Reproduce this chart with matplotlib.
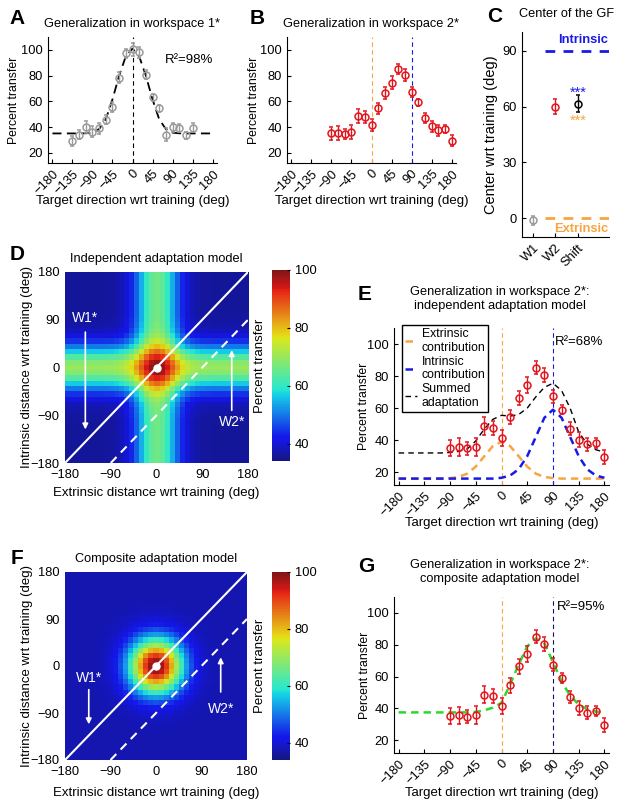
import numpy as np
import matplotlib
matplotlib.use("Agg")
import matplotlib.pyplot as plt
from matplotlib.colors import ListedColormap

plt.rcParams["font.family"] = ["Liberation Sans", "DejaVu Sans"]
plt.rcParams["font.size"] = 9

W, H = 627, 810

# --- данные ---
W1_DIR = [-135, -120, -105, -90, -75, -60, -45, -30, -15, 0, 15, 30, 45, 60, 75, 90, 105, 120, 135]
W1_VAL = [29, 34, 40, 36.5, 39, 45.5, 55.5, 78.5, 97.5, 100.5, 98, 80.5, 63, 54.5, 34, 40, 39, 33.5, 39.5]
W1_ERR = [4, 3.5, 5, 4, 4.5, 3.5, 4, 4, 3.5, 5, 4, 3.5, 3, 3, 5, 3.5, 3, 3, 3.5]

W2_DIR = [-90, -75, -60, -45, -30, -15, 0, 15, 30, 45, 60, 75, 90, 105, 120, 135, 150, 165, 180]
W2_VAL = [35.2, 35.6, 34.8, 35.8, 48.7, 47.6, 41.6, 54.5, 66.4, 74.3, 85.1, 80.5, 67.4, 59.1, 47.2, 40.4, 37.3, 38.3, 29.4]
W2_ERR = [5, 5.5, 4, 5.5, 5.5, 4.5, 5, 4.5, 4.5, 5, 4, 4.5, 4, 3, 4, 4.5, 4, 3, 4.5]

CURVE_DIR = [-180, -165, -150, -135, -120, -105, -90, -75, -60, -45, -30, -15, 0,
             15, 30, 45, 60, 75, 90, 105, 120, 135, 150, 165, 180]
W1_FIT = [35, 35, 35, 35, 35, 35.1, 35.6, 38.4, 46, 61.5, 80, 95, 101,
          95, 80, 61.5, 46, 38.4, 35.6, 35.1, 35, 35, 35, 35, 35]
EXT_CONTRIB = [16, 16, 16, 16, 16, 16, 16.3, 17, 19.1, 23.5, 30, 36.3, 39,
               36.3, 30, 23.5, 19.1, 17, 16.3, 16, 16, 16, 16, 16, 16]
INT_CONTRIB = [16, 16, 16, 16, 16, 16, 16, 16, 16, 16, 16, 16, 16.5,
               17.9, 21.8, 30, 42, 54, 59, 54, 42, 30, 21.8, 17.9, 16.5]
SUM_ADAPT = [32, 32, 32, 32, 32, 32, 32.3, 33, 34.5, 39.5, 47, 53, 55.5,
             55, 56, 60, 67, 73, 75.5, 71, 60, 45, 37.5, 34, 32.5]
COMPOSITE_FIT = [37.5, 37.5, 37.5, 37.5, 37.5, 37.5, 37.5, 37.5, 37.5, 37.8, 38.8, 40.5, 43.5,
                 55, 67.5, 79, 84, 81, 69, 57, 48, 42.5, 39.5, 38, 37.5]

DIR_TICKS = [-180, -135, -90, -45, 0, 45, 90, 135, 180]

C_NAMES = ["W1", "W2", "Shift"]
C_VAL = [-1, 60, 61.5]
C_ERR = [2.5, 4, 4.5]

# профили моделей на сетке 10° (от -180 до 180)
EXT_PROFILE_D = [18, 18, 18, 18, 18, 18, 18, 18, 18.1, 18.3, 18.9, 20, 22, 25.5, 30.3, 36.2, 42, 46.4, 48,
                 46.4, 42, 36.2, 30.3, 25.5, 22, 20, 18.9, 18.3, 18.1, 18, 18, 18, 18, 18, 18, 18, 18]
INT_PROFILE_D = [18, 18, 18, 18, 18, 18, 18, 18, 18.1, 18.4, 19, 20.2, 22.6, 26.5, 32, 38.6, 45.2, 50.2, 52,
                 50.2, 45.2, 38.6, 32, 26.5, 22.6, 20.2, 19, 18.4, 18.1, 18, 18, 18, 18, 18, 18, 18, 18]
COMP_PROFILE = [0, 0, 0, 0, 0, 0.0015, 0.0039, 0.0094, 0.021, 0.044, 0.085, 0.151, 0.249, 0.381, 0.539,
                0.707, 0.857, 0.962, 1, 0.962, 0.857, 0.707, 0.539, 0.381, 0.249, 0.151, 0.085, 0.044,
                0.021, 0.0094, 0.0039, 0.0015, 0, 0, 0, 0, 0]
COMP_BASE, COMP_PEAK = 37.5, 100

RED = "#e3141b"
GRAY = "#9a9a9a"
ORANGE = "#f7a540"
BLUE = "#1a1ae6"
GREEN = "#2bd92b"

# приглушённый jet, как на печатной картинке
_jet = plt.get_cmap("jet")(np.linspace(0, 1, 256))[:, :3]
HEAT_CMAP = ListedColormap(0.82 * _jet + 0.18 * np.array([0.45, 0.5, 0.5]))

TICK_FS, XLAB_FS, YLAB_FS, TITLE_FS = 9.3, 9.5, 8.8, 9.2


def add_ax(fig, rect):
    l, t, r, b = rect
    return fig.add_axes([l / W, 1 - b / H, (r - l) / W, (b - t) / H])


def place_labels(ax, rect, xlabel_top=None, ylabel_right=None):
    l, t, r, b = rect
    if xlabel_top is not None:
        ax.xaxis.set_label_coords(0.5, -(xlabel_top - b) / (b - t))
    if ylabel_right is not None:
        ax.yaxis.set_label_coords(-(l - ylabel_right) / (r - l), 0.5)


def fig_text(fig, x, y, s, **kw):
    fig.text(x / W, 1 - y / H, s, ha="center", va="center", **kw)


def style_dir_axes(ax, xlim):
    for side in ("top", "right"):
        ax.spines[side].set_visible(False)
    ax.tick_params(direction="in", length=3, labelsize=TICK_FS)
    ax.set_xlim(*xlim)
    ax.set_ylim(12, 110)
    ax.set_xticks(DIR_TICKS)
    ax.set_xticklabels([str(t).replace("-", "\u2212") for t in DIR_TICKS],
                       rotation=45, ha="right", rotation_mode="anchor")
    ax.set_yticks([20, 40, 60, 80, 100])
    ax.set_ylabel("Percent transfer", fontsize=YLAB_FS)
    ax.set_xlabel("Target direction wrt training (deg)", fontsize=XLAB_FS)


def points(ax, x, y, err, color):
    ax.errorbar(x, y, yerr=err, fmt="o", mfc="none", mec=color, ecolor=color,
                ms=5, mew=1.1, elinewidth=1, capsize=1.5, zorder=5)


fig = plt.figure(figsize=(W / 100, H / 100), dpi=100)

# --- A ---
RA = (48, 37, 217, 163)
ax = add_ax(fig, RA)
ax.axvline(0, color="k", ls=(0, (4, 3)), lw=0.8)
ax.plot(CURVE_DIR, W1_FIT, color="k", ls=(0, (5, 3)), lw=1.3)
points(ax, W1_DIR, W1_VAL, W1_ERR, GRAY)
style_dir_axes(ax, (-190, 190))
ax.text(72, 92, "R\u00b2=98%", va="center", fontsize=9.5)
place_labels(ax, RA, 195, 20)
fig_text(fig, 132, 24, "Generalization in workspace 1*", fontsize=TITLE_FS)

# --- B ---
RB = (287, 37, 456, 163)
ax = add_ax(fig, RB)
ax.axvline(0, color=ORANGE, ls=(0, (4, 3)), lw=0.8)
ax.axvline(90, color=BLUE, ls=(0, (4, 3)), lw=0.8)
points(ax, W2_DIR, W2_VAL, W2_ERR, RED)
style_dir_axes(ax, (-190, 190))
place_labels(ax, RB, 195, 260)
fig_text(fig, 371, 24, "Generalization in workspace 2*", fontsize=TITLE_FS)

# --- C ---
RC = (522, 32, 609, 237)
ax = add_ax(fig, RC)
for side in ("top", "right"):
    ax.spines[side].set_visible(False)
ax.axhline(90, xmin=0.27, xmax=1, color=BLUE, lw=2, ls=(0, (3.5, 3)))
ax.axhline(0, xmin=0.27, xmax=1, color=ORANGE, lw=2, ls=(0, (3.5, 3)))
for i, (name, v, e, c) in enumerate(zip(C_NAMES, C_VAL, C_ERR, [GRAY, RED, "k"])):
    points(ax, [i + 1], [v], [e], c)
ax.text(3, 67.5, "***", color=BLUE, ha="center", va="center", fontsize=10.5)
ax.text(3, 52.5, "***", color=ORANGE, ha="center", va="center", fontsize=10.5)
ax.text(4.35, 95.5, "Intrinsic", color=BLUE, ha="right", va="center", fontsize=9.3, fontweight="bold")
ax.text(4.35, -5.5, "Extrinsic", color=ORANGE, ha="right", va="center", fontsize=9.3, fontweight="bold")
ax.set_xlim(0.5, 4.4)
ax.set_ylim(-10, 100)
ax.set_yticks([0, 30, 60, 90])
ax.set_xticks([1, 2, 3])
ax.set_xticklabels(C_NAMES, rotation=45, ha="right", rotation_mode="anchor")
ax.tick_params(direction="in", length=3, labelsize=TICK_FS)
ax.set_ylabel("Center wrt training (deg)", fontsize=10.5)
place_labels(ax, RC, None, 498)
fig_text(fig, 567, 14, "Center of the GF", fontsize=TITLE_FS)


def heat_panel(rect, cbar_rect, data, title_y, title, w1, w2):
    ax = add_ax(fig, rect)
    im = ax.imshow(data, cmap=HEAT_CMAP, vmin=34, vmax=100, origin="lower",
                   extent=(-185, 185, -185, 185), interpolation="nearest", aspect="auto")
    ax.set_xlim(-180, 180)
    ax.set_ylim(-180, 180)
    for s in ax.spines.values():
        s.set_visible(False)
    ax.plot([-180, 180], [-180, 180], color="w", lw=1.5)
    ax.plot([-90, 180], [-180, 90], color="w", lw=1.5, ls=(0, (4, 3)))
    ax.plot(0, 0, "o", color="w", ms=5)
    ticks = [-180, -90, 0, 90, 180]
    labels = [str(t).replace("-", "\u2212") for t in ticks]
    ax.set_xticks(ticks)
    ax.set_xticklabels(labels)
    ax.set_yticks(ticks)
    ax.set_yticklabels(labels)
    ax.tick_params(length=0, labelsize=TICK_FS, pad=4)
    ax.set_xlabel("Extrinsic distance wrt training (deg)", fontsize=XLAB_FS)
    ax.set_ylabel("Intrinsic distance wrt training (deg)", fontsize=XLAB_FS)
    # стрелки W1*/W2*
    (x1, y1a, y1b, ty1), (x2, y2a, y2b, ty2) = w1, w2
    arr = dict(arrowstyle="-|>", color="w", lw=1.2, mutation_scale=8)
    ax.annotate("", xy=(x1, y1b), xytext=(x1, y1a), arrowprops=arr)
    ax.annotate("", xy=(x2, y2b), xytext=(x2, y2a), arrowprops=arr)
    ax.text(x1, ty1, "W1*", color="w", ha="center", va="center", fontsize=10)
    ax.text(x2, ty2, "W2*", color="w", ha="center", va="center", fontsize=10)
    fig_text(fig, (rect[0] + rect[2]) / 2, title_y, title, fontsize=TITLE_FS)
    cax = add_ax(fig, cbar_rect)
    cb = fig.colorbar(im, cax=cax)
    cb.set_ticks([40, 60, 80, 100])
    cb.outline.set_visible(False)
    cb.ax.tick_params(direction="in", length=2, labelsize=TICK_FS)
    cb.set_label("Percent transfer", fontsize=XLAB_FS)
    cb.ax.yaxis.set_label_position("left")
    return ax


# --- D ---
heat_d = np.add.outer(INT_PROFILE_D, EXT_PROFILE_D)
RD = (65, 272, 248, 463)
ax = heat_panel(RD, (272, 270, 290, 461), heat_d, 259, "Independent adaptation model",
                (-140, 72, -122, 93), (148, -86, 38, -103))
place_labels(ax, RD, 487, 33)

# --- E ---
RE = (394, 328, 609, 485)
ax = add_ax(fig, RE)
ax.axvline(0, color=ORANGE, ls=(0, (4, 3)), lw=0.8)
ax.axvline(90, color=BLUE, ls=(0, (4, 3)), lw=0.8)
ax.plot(CURVE_DIR, EXT_CONTRIB, color=ORANGE, ls=(0, (3, 2)), lw=1.8, label="Extrinsic\ncontribution")
ax.plot(CURVE_DIR, INT_CONTRIB, color=BLUE, ls=(0, (3, 2)), lw=1.8, label="Intrinsic\ncontribution")
ax.plot(CURVE_DIR, SUM_ADAPT, color="k", ls=(0, (4, 3)), lw=1.0, label="Summed\nadaptation")
points(ax, W2_DIR, W2_VAL, W2_ERR, RED)
style_dir_axes(ax, (-188, 188))
ax.text(93, 101, "R\u00b2=68%", va="center", fontsize=9.5)
ax.legend(loc="upper left", bbox_to_anchor=(0.035, 1.02), handlelength=1.0, fontsize=8.8,
          fancybox=False, edgecolor="k", framealpha=1, borderpad=0.25, labelspacing=0.15,
          handletextpad=0.4, borderaxespad=0)
place_labels(ax, RE, 517, 370)
fig.text(500 / W, 1 - 299 / H, "Generalization in workspace 2*:\nindependent adaptation model",
         ha="center", va="center", linespacing=1.25, fontsize=TITLE_FS)

# --- F ---
heat_f = COMP_BASE + (COMP_PEAK - COMP_BASE) * np.outer(COMP_PROFILE, COMP_PROFILE)
RF = (65, 572, 247, 760)
ax = heat_panel(RF, (272, 572, 290, 760), heat_f, 559, "Composite adaptation model",
                (-133, -40, -117, -23), (128, -55, 22, -83))
place_labels(ax, RF, 787, 33)

# --- G ---
RG = (394, 597, 609, 753)
ax = add_ax(fig, RG)
ax.axvline(0, color=ORANGE, ls=(0, (4, 3)), lw=0.8)
ax.axvline(90, color="#10106e", ls=(0, (4, 3)), lw=0.8)
ax.plot(CURVE_DIR, COMPOSITE_FIT, color=GREEN, ls=(0, (3, 2)), lw=1.8)
points(ax, W2_DIR, W2_VAL, W2_ERR, RED)
style_dir_axes(ax, (-188, 188))
ax.text(97, 104, "R\u00b2=95%", va="center", fontsize=9.5)
place_labels(ax, RG, 787, 371)
fig.text(500 / W, 1 - 572 / H, "Generalization in workspace 2*:\ncomposite adaptation model",
         ha="center", va="center", linespacing=1.25, fontsize=TITLE_FS)

# буквы панелей
for letter, x, y in [("A", 17, 18), ("B", 257, 18), ("C", 495, 17), ("D", 17, 255),
                     ("E", 365, 294), ("F", 17, 559), ("G", 366, 567)]:
    fig_text(fig, x, y, letter, fontsize=15, fontweight="bold")

fig.savefig("out.png", dpi=100)
